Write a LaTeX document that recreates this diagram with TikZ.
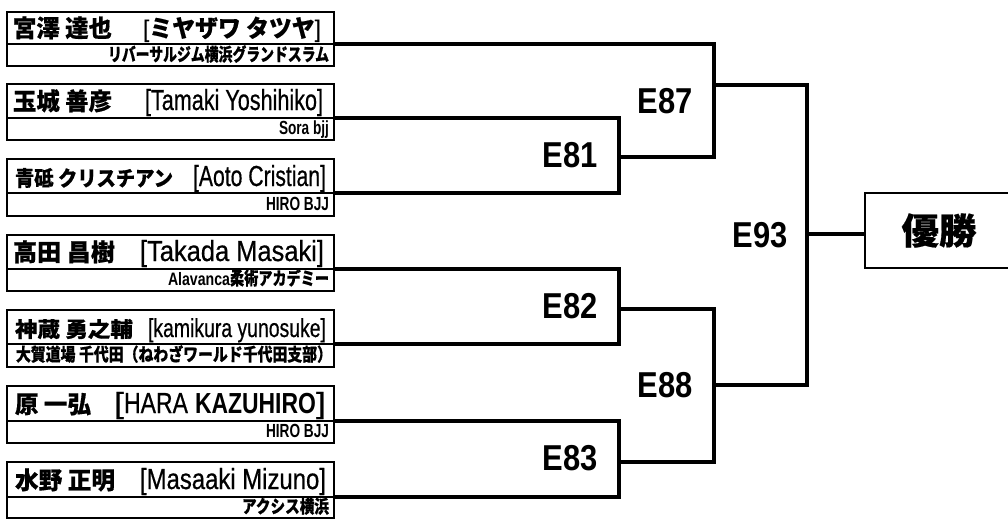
\documentclass[tikz,border=0pt]{standalone}
\usepackage{fontspec}
\usepackage{graphicx}
\newfontfamily\jp{Noto Sans CJK JP}[BoldFeatures={FakeBold=0.5}]
\newfontfamily\lat{Liberation Sans}
\newfontfamily\latm{Liberation Sans}[FakeBold=0.6]
\newcommand\nm[2]{\resizebox{#1pt}{\height}{\jp\bfseries\fontsize{24}{24}\selectfont #2}}
\newcommand\rd[2]{\resizebox{#1pt}{\height}{\latm\fontsize{29}{29}\selectfont [#2]}}
\newcommand\cl[2]{\resizebox{#1pt}{\height}{\jp\bfseries\fontsize{18}{18}\selectfont #2}}
\newcommand\lc[2]{\resizebox{#1pt}{\height}{\lat\bfseries\fontsize{19}{19}\selectfont #2}}
\newcommand\el[1]{\resizebox{55pt}{\height}{\lat\bfseries\fontsize{36}{36}\selectfont #1}}
\begin{document}
\begin{tikzpicture}[x=1pt,y=-1pt,
  pbox/.style={draw, line width=1.8pt, inner sep=0, minimum width=327pt},
  divline/.style={line width=1.8pt},
  br/.style={line width=4pt, line join=miter},
  txt/.style={inner sep=0, outer sep=0},
  lbl/.style={inner sep=0, outer sep=0}]
\useasboundingbox (0,0) rectangle (1008,520);
% ---------- player boxes ----------
% p1
\node[pbox, minimum height=54pt] (p1) at (170.5,39) {};
\coordinate (p1o) at (334,44);
\draw[divline] (p1.west |- p1o) -- (p1o);
\node[txt, anchor=base west] (n1) at (13,37) {\nm{99}{宮澤 達也}};
\node[txt, anchor=base east] (r1) at (321,37) {\resizebox{178pt}{\height}{\fontsize{24}{24}\selectfont{\latm [}{\jp\bfseries ミヤザワ タツヤ}{\latm ]}}};
\node[txt, anchor=base east] (c1) at (329,61) {\cl{221}{リバーサルジム横浜グランドスラム}};
% p2
\node[pbox, minimum height=56pt] (p2) at (170.5,112) {};
\coordinate (p2o) at (334,118);
\draw[divline] (p2.west |- p2o) -- (p2o);
\node[txt, anchor=base west] (n2) at (13,110) {\nm{99}{玉城 善彦}};
\node[txt, anchor=base east] (r2) at (323,110) {\rd{178}{Tamaki Yoshihiko}};
\node[txt, anchor=base east] (c2) at (329,134) {\lc{50}{Sora bjj}};
% p3
\node[pbox, minimum height=57pt] (p3) at (170.5,187.5) {};
\coordinate (p3o) at (334,193);
\draw[divline] (p3.west |- p3o) -- (p3o);
\node[txt, anchor=base west] (n3) at (15,186) {\resizebox{158pt}{\height}{\jp\bfseries\fontsize{21}{21}\selectfont 青砥 クリスチアン}};
\node[txt, anchor=base east] (r3) at (326,186) {\rd{133}{Aoto Cristian}};
\node[txt, anchor=base east] (c3) at (329,210) {\lc{63}{HIRO BJJ}};
% p4
\node[pbox, minimum height=56pt] (p4) at (170.5,263) {};
\coordinate (p4o) at (334,269);
\draw[divline] (p4.west |- p4o) -- (p4o);
\node[txt, anchor=base west] (n4) at (13,261) {\nm{102}{高田 昌樹}};
\node[txt, anchor=base east] (r4) at (324,261) {\rd{184}{Takada Masaki}};
\node[txt, anchor=base east] (c4) at (329,285) {\cl{161}{{\lat\bfseries Alavanca}柔術アカデミー}};
% p5
\node[pbox, minimum height=57pt] (p5) at (170.5,338.5) {};
\coordinate (p5o) at (334,344);
\draw[divline] (p5.west |- p5o) -- (p5o);
\node[txt, anchor=base west] (n5) at (15,337) {\resizebox{118pt}{\height}{\jp\bfseries\fontsize{21}{21}\selectfont 神蔵 勇之輔}};
\node[txt, anchor=base east] (r5) at (326,337) {\resizebox{178pt}{\height}{\latm\fontsize{26}{26}\selectfont [kamikura yunosuke]}};
\node[txt, anchor=base east] (c5) at (332,361) {\cl{316}{大賀道場 千代田（ねわざワールド千代田支部）}};
% p6
\node[pbox, minimum height=57pt] (p6) at (170.5,414.5) {};
\coordinate (p6o) at (334,421);
\draw[divline] (p6.west |- p6o) -- (p6o);
\node[txt, anchor=base west] (n6) at (15,413) {\nm{76}{原 一弘}};
\node[txt, anchor=base east] (r6) at (326,413) {\fontsize{29}{29}\selectfont\resizebox{10pt}{\height}{\latm [}\resizebox{64pt}{\height}{\latm HARA}\hspace{7pt}\resizebox{121pt}{\height}{\lat\bfseries KAZUHIRO}\resizebox{10pt}{\height}{\latm ]}};
\node[txt, anchor=base east] (c6) at (329,437) {\lc{63}{HIRO BJJ}};
% p7
\node[pbox, minimum height=56pt] (p7) at (170.5,490) {};
\coordinate (p7o) at (334,497);
\draw[divline] (p7.west |- p7o) -- (p7o);
\node[txt, anchor=base west] (n7) at (15,489) {\nm{100}{水野 正明}};
\node[txt, anchor=base east] (r7) at (326,489) {\rd{186}{Masaaki Mizuno}};
\node[txt, anchor=base east] (c7) at (329,513) {\cl{87}{アクシス横浜}};
% ---------- bracket junctions ----------
\coordinate (m81) at (619,157);
\coordinate (m82) at (619,309);
\coordinate (m83) at (619,462);
\coordinate (m87) at (714,85);
\coordinate (m88) at (714,385);
\coordinate (m93) at (807,234);
% ---------- champion ----------
\node[draw, line width=2.5pt, minimum width=148pt, minimum height=75pt, inner sep=0] (win) at (939,230.5) {\resizebox{75pt}{\height}{\jp\bfseries\fontsize{36}{36}\selectfont 優勝}};
% ---------- connectors ----------
\draw[br] (p2o) -| (m81) |- (p3o);
\draw[br] (p4o) -| (m82) |- (p5o);
\draw[br] (p6o) -| (m83) |- (p7o);
\draw[br] (p1o) -| (m87) |- (m81);
\draw[br] (m82) -| (m88) |- (m83);
\draw[br] (m87) -| (m93) |- (m88);
\draw[br] (m93) -- (m93 -| win.west);
% ---------- match labels ----------
\node[lbl] (e81) at (570,155) {\el{E81}};
\node[lbl] (e82) at (570,306) {\el{E82}};
\node[lbl] (e83) at (570,458) {\el{E83}};
\node[lbl] (e87) at (665,101) {\el{E87}};
\node[lbl] (e88) at (665,385) {\el{E88}};
\node[lbl] (e93) at (760,235) {\el{E93}};
\end{tikzpicture}
\end{document}
